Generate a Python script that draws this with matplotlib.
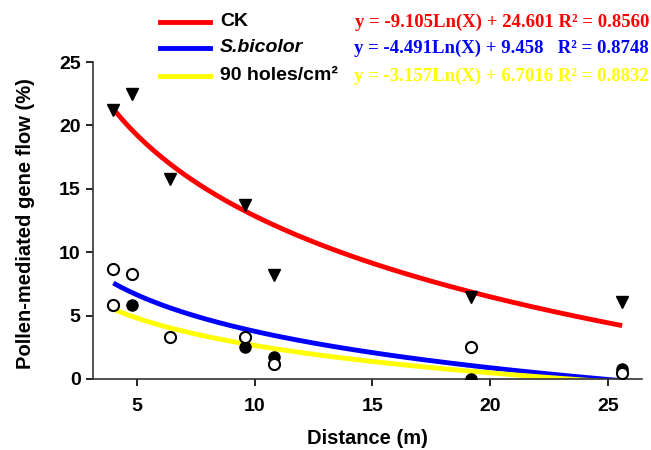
import numpy as np
import matplotlib
matplotlib.use("Agg")
import matplotlib.pyplot as plt
from matplotlib.lines import Line2D

plt.rcParams['font.family'] = ['Liberation Sans', 'DejaVu Sans']
plt.rcParams['font.weight'] = 'bold'

# distances (m)
distance = [4, 4.8, 6.4, 9.6, 10.8, 19.2, 25.6]

# CK observations (down triangles)
ck_values = [21.2, 22.45, 15.8, 13.7, 8.2, 6.5, 6.1]

# filled circles
filled_x = [4, 4.8, 9.6, 10.8, 19.2, 25.6]
filled_y = [5.8, 5.8, 2.5, 1.7, 0.0, 0.8]

# open circles
open_x = [4, 4, 4.8, 6.4, 9.6, 10.8, 19.2, 25.6]
open_y = [8.7, 5.8, 8.3, 3.3, 3.3, 1.2, 2.5, 0.45]

# fitted log curves as drawn: y = slope * ln(x) + intercept
series_names = ['CK', 'S.bicolor', '90 holes/cm²']
fit_slopes = [-9.21, -4.153, -3.121]
fit_intercepts = [34.07, 13.32, 9.826]
fit_colors = ['#ff0000', '#0000ff', '#ffff00']
equations = ['y = -9.105Ln(X) + 24.601 R² = 0.8560',
             'y = -4.491Ln(X) + 9.458   R² = 0.8748',
             'y = -3.157Ln(X) + 6.7016 R² = 0.8832']

fig = plt.figure(figsize=(6.51, 4.5), dpi=100)
ax = fig.add_axes([0.143, 0.158, 0.843, 0.704])

xs = np.linspace(4, 25.6, 200)
for a, b, c in zip(fit_slopes, fit_intercepts, fit_colors):
    ax.plot(xs, a * np.log(xs) + b, color=c, lw=3.5, zorder=2, solid_capstyle='butt')

ax.plot(distance, ck_values, 'v', color='black', ms=9, ls='none', zorder=3)
ax.plot(filled_x, filled_y, 'o', color='black', ms=8, ls='none', zorder=3)
ax.plot(open_x, open_y, 'o', mfc='white', mec='black', mew=1.5, ms=8, ls='none', zorder=4)

ax.set_xlim(3.14, 26.44)
ax.set_ylim(0, 25)
ax.set_xticks([5, 10, 15, 20, 25])
ax.set_yticks([0, 5, 10, 15, 20, 25])
ax.spines['top'].set_visible(False)
ax.spines['right'].set_visible(False)
for s in ['left', 'bottom']:
    ax.spines[s].set_linewidth(1.2)
    ax.spines[s].set_color('#333333')
ax.tick_params(direction='out', length=5, width=1.2, labelsize=14)
ax.tick_params(axis='x', pad=9)
ax.tick_params(axis='y', pad=4)
for lbl in ax.get_xticklabels() + ax.get_yticklabels():
    lbl.set_fontweight('bold')
ax.set_xlabel('Distance (m)', fontsize=14.5, fontweight='bold')
ax.set_ylabel('Pollen-mediated gene flow (%)', fontsize=14.5, fontweight='bold')
ax.xaxis.set_label_coords(0.5, -0.189)
ax.xaxis.label.set_va('center')
ax.yaxis.set_label_coords(-0.124, 0.49)
ax.yaxis.label.set_va('center')

# legend block at the top
row_y = [428, 402, 374]
for i, (name, c, eq) in enumerate(zip(series_names, fit_colors, equations)):
    yf = row_y[i] / 450
    fig.add_artist(Line2D([160 / 651, 210 / 651], [yf, yf], color=c, lw=3.5,
                          transform=fig.transFigure))
    fig.text(220 / 651, yf, name, fontsize=14, fontweight='bold',
             style='italic' if i == 1 else 'normal', va='center', ha='left')
    fig.text(649 / 651, yf, eq, fontsize=13.5, fontweight='bold', color=c,
             family=['Liberation Serif', 'DejaVu Serif'], va='center', ha='right')

fig.savefig('out.png', dpi=100)
